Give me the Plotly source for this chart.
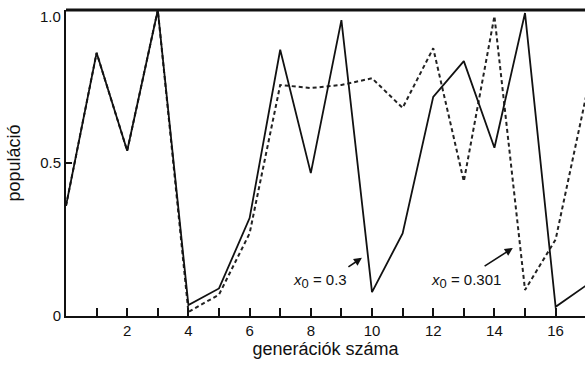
import plotly.graph_objects as go

generations = list(range(0, 18))
pop_x03 = [0.36, 0.86, 0.54, 1.0, 0.036, 0.09, 0.32, 0.87, 0.467, 0.967, 0.078,
           0.27, 0.716, 0.833, 0.55, 0.99, 0.03, 0.10]
pop_x0301 = [0.36, 0.86, 0.54, 1.0, 0.013, 0.07, 0.27, 0.755, 0.745, 0.755, 0.777,
             0.68, 0.875, 0.44, 0.98, 0.085, 0.25, 0.72]

x_tick_vals = [2, 4, 6, 8, 10, 12, 14, 16]
x_tick_text = ["2", "4", "6", "8", "10", "12", "14", "16"]
x_minor_vals = [1, 3, 5, 7, 9, 11, 13, 15]
y_tick_vals = [0, 0.5]
y_tick_text = ["0", "0.5"]
y_top_label = "1.0"

font_family = "Liberation Sans, Arial, sans-serif"

fig = go.Figure()
fig.add_trace(go.Scatter(x=generations, y=pop_x0301, mode="lines",
                         line=dict(color="#222", width=2, dash="4px,3px"),
                         showlegend=False))
fig.add_trace(go.Scatter(x=generations, y=pop_x03, mode="lines",
                         line=dict(color="#111", width=1.8),
                         showlegend=False))

fig.add_annotation(x=9.67, y=0.19, ax=9.18, ay=0.157, xref="x", yref="y",
                   axref="x", ayref="y", text="", showarrow=True,
                   arrowhead=2, arrowsize=1, arrowwidth=1.6, arrowcolor="#111")
fig.add_annotation(x=8.3, y=0.115, xref="x", yref="y", showarrow=False,
                   text="<i>x</i><sub><span style='font-size:13px'>0</span></sub> = 0.3",
                   font=dict(family=font_family, size=15, color="#111"))
fig.add_annotation(x=14.6, y=0.222, ax=13.63, ay=0.16, xref="x", yref="y",
                   axref="x", ayref="y", text="", showarrow=True,
                   arrowhead=2, arrowsize=1, arrowwidth=1.6, arrowcolor="#111")
fig.add_annotation(x=13.07, y=0.115, xref="x", yref="y", showarrow=False,
                   text="<i>x</i><sub><span style='font-size:13px'>0</span></sub> = 0.301",
                   font=dict(family=font_family, size=15, color="#111"))
fig.add_annotation(x=0, y=1.0, xref="paper", yref="y", showarrow=False,
                   text=y_top_label, xanchor="right", yanchor="middle",
                   xshift=-3, yshift=-6,
                   font=dict(family=font_family, size=15, color="#111"))

# top frame line
fig.add_shape(type="line", xref="paper", yref="paper", x0=0, x1=1, y0=1, y1=1,
              line=dict(color="#111", width=3))

fig.update_layout(
    width=585, height=366,
    margin=dict(l=66, r=0, t=10, b=50, autoexpand=False),
    paper_bgcolor="white", plot_bgcolor="white",
    font=dict(family=font_family, color="#111"),
    xaxis=dict(range=[0, 16.96], tickvals=x_tick_vals, ticktext=x_tick_text,
               ticks="inside", ticklen=8, tickwidth=1.5, tickcolor="#111",
               minor=dict(tickvals=x_minor_vals, ticks="inside", ticklen=8,
                          tickwidth=1.5, tickcolor="#111", showgrid=False),
               showline=True, linecolor="#111", linewidth=2,
               showgrid=False, zeroline=False, automargin=False,
               tickfont=dict(size=15, color="#111"),
               title=dict(text="generációk száma", font=dict(size=18), standoff=3)),
    yaxis=dict(range=[0, 1.0], tickvals=y_tick_vals, ticktext=y_tick_text,
               ticks="inside", ticklen=6, tickwidth=1.5, tickcolor="#111",
               showline=True, linecolor="#111", linewidth=2,
               showgrid=False, zeroline=False, automargin=False,
               tickfont=dict(size=15, color="#111"),
               title=dict(text="populáció", font=dict(size=18), standoff=15)),
)

fig.write_html("out.html",
               config={"displayModeBar": False},
               post_script="document.body.style.margin='0';"
                           "document.documentElement.style.overflow='hidden';")
